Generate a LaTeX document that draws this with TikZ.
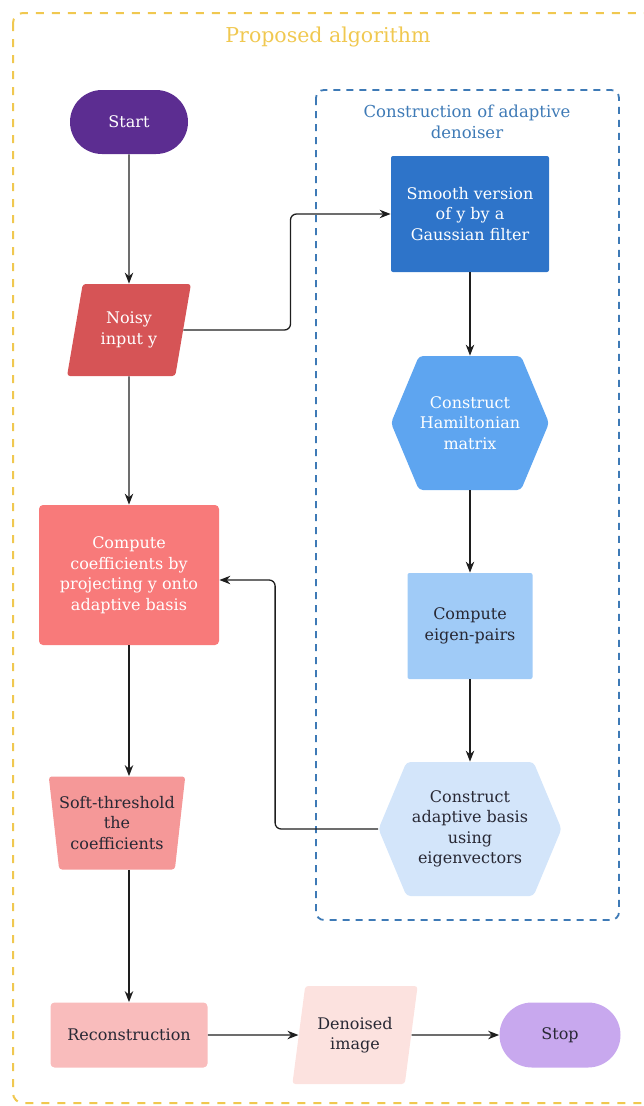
\documentclass[tikz,border=0pt]{standalone}
\usepackage{fontspec}
\setmainfont{DejaVu Serif}
\usetikzlibrary{shapes.geometric,shapes.misc,arrows.meta,positioning}

\definecolor{startpurple}{RGB}{92,45,145}
\definecolor{stoppurple}{RGB}{200,168,238}
\definecolor{noisyred}{RGB}{214,84,86}
\definecolor{coefred}{RGB}{248,122,122}
\definecolor{softred}{RGB}{245,152,152}
\definecolor{reconred}{RGB}{249,188,188}
\definecolor{outpink}{RGB}{252,226,223}
\definecolor{smoothblue}{RGB}{46,116,201}
\definecolor{hamilblue}{RGB}{94,165,240}
\definecolor{eigenblue}{RGB}{160,203,247}
\definecolor{basisblue}{RGB}{211,229,250}
\definecolor{frameyellow}{RGB}{240,200,80}
\definecolor{frameblue}{RGB}{62,122,182}
\definecolor{darktext}{RGB}{40,40,52}
\definecolor{linkgray}{RGB}{30,30,30}

\tikzset{every picture/.style={line width=0.75pt}}
\tikzset{
  base/.style={inner sep=0pt, align=center, font=\fontsize{16}{20.5}\selectfont},
  boxnode/.style={base, rectangle, rounded corners=4pt, fill=#1},
  termnode/.style={base, rounded rectangle, fill=#1},
  datanode/.style={base, trapezium, trapezium left angle=75, trapezium right angle=105,
    trapezium stretches=true, rounded corners=3pt, fill=#1},
  hexnode/.style={base, rectangle, path picture={
    \fill[#1, rounded corners=4pt] (path picture bounding box.west)
      -- ([xshift=28pt]path picture bounding box.north west)
      -- ([xshift=-28pt]path picture bounding box.north east)
      -- (path picture bounding box.east)
      -- ([xshift=-28pt]path picture bounding box.south east)
      -- ([xshift=28pt]path picture bounding box.south west) -- cycle;}},
  link/.style={draw=linkgray, line width=1.3pt, rounded corners=6pt,
    -{Stealth[length=11pt,width=8.5pt]}},
}

\begin{document}
\begin{tikzpicture}[x=1pt,y=1pt,yscale=-1,xscale=1]
\useasboundingbox (0,0) rectangle (644,1106);

%Frames
\draw [frameyellow, line width=2pt, dash pattern=on 8pt off 8pt, rounded corners=10pt] (13,13) rectangle (662,1103);
\draw [frameblue, line width=1.8pt, dash pattern=on 7pt off 6pt, rounded corners=8pt] (316,90) rectangle (619,920);

% Text Node
\node [font=\fontsize{20.5}{24}\selectfont, text=frameyellow] (algtitle) at (328,37) {Proposed algorithm};
% Text Node
\node [align=center, font=\fontsize{16.5}{21}\selectfont, text=frameblue] (subtitle) at (467,122) {Construction of adaptive\\denoiser};

%Left column
\node [termnode=startpurple, text=white, minimum width=118pt, minimum height=64pt] (start) at (129,122) {Start};
\node [datanode=noisyred, text=white, minimum width=124pt, minimum height=92pt] (noisy) at (129,330) {Noisy\\input y};
\node [boxnode=coefred, text=white, minimum width=180pt, minimum height=140pt] (coef) at (129,575) {Compute\\coefficients by\\projecting y onto\\adaptive basis};
\node [datanode=softred, trapezium left angle=101, trapezium right angle=101, text=darktext, minimum width=130pt, minimum height=93pt] (soft) at (117,823) {Soft-threshold\\the\\coefficients};
\node [boxnode=reconred, text=darktext, minimum width=157pt, minimum height=65pt] (recon) at (129,1035) {Reconstruction};
\node [datanode=outpink, text=darktext, minimum width=126pt, minimum height=98pt] (denoised) at (355,1035) {Denoised\\image};
\node [termnode=stoppurple, text=darktext, minimum width=121pt, minimum height=65pt] (stop) at (560,1035) {Stop};

%Right column
\node [boxnode=smoothblue, rounded corners=2pt, text=white, minimum width=158pt, minimum height=116pt] (smooth) at (470,214) {Smooth version\\of y by a\\Gaussian filter};
\node [hexnode=hamilblue, text=white, minimum width=158pt, minimum height=134pt] (hamil) at (470,423) {Construct\\Hamiltonian\\matrix};
\node [boxnode=eigenblue, rounded corners=2pt, text=darktext, minimum width=125pt, minimum height=106pt] (eigen) at (470,626) {Compute\\eigen-pairs};
\node [hexnode=basisblue, text=darktext, minimum width=183pt, minimum height=134pt] (basis) at (470,829) {Construct\\adaptive basis\\using\\eigenvectors};

%Connectors
\draw [link] (start) -- (noisy);
\draw [link] (noisy.east) -- ++(107,0) |- (smooth.west);
\draw [link] (noisy) -- (coef);
\draw [link] (smooth) -- (hamil);
\draw [link] (hamil) -- (eigen);
\draw [link] (eigen) -- (basis);
\draw [link] (basis.west) -- ++(-103,0) |- ([yshift=5pt]coef.east);
\draw [link] (coef.south) -- (coef.south |- soft.north);
\draw [link] (coef.south |- soft.south) -- (recon.north);
\draw [link] (recon) -- (denoised);
\draw [link] (denoised) -- (stop);

\end{tikzpicture}
\end{document}
